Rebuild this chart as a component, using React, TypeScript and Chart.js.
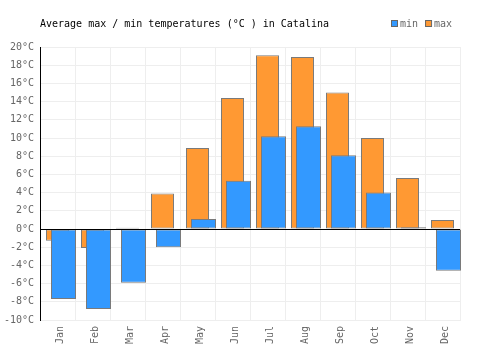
import React, { useEffect, useRef } from "react";
import { Chart, registerables } from "chart.js";

Chart.register(...registerables);

const months = ["Jan", "Feb", "Mar", "Apr", "May", "Jun", "Jul", "Aug", "Sep", "Oct", "Nov", "Dec"];
const maxTemps = [-1.3, -2.1, 0.15, 3.9, 8.9, 14.4, 19.1, 18.9, 15.0, 10.0, 5.6, 1.0];
const minTemps = [-7.7, -8.8, -5.9, -2.0, 1.1, 5.3, 10.2, 11.3, 8.1, 4.0, 0.2, -4.6];
const titleText = "Average max / min temperatures (°C ) in Catalina";
const yMin = -10;
const yMax = 20;
const yStep = 2;

const FONT = "'DejaVu Sans Mono', monospace";

// draw datasets in natural order (first dataset underneath), then zero line on top
const drawOrderPlugin = {
  id: "drawOrder",
  beforeDatasetsDraw(chart: any) {
    const metas = chart.getSortedVisibleDatasetMetas();
    for (const meta of metas) {
      meta.controller.draw();
    }
    const y = chart.scales.y;
    const ctx = chart.ctx;
    const py = Math.round(y.getPixelForValue(0)) + 0.5;
    ctx.save();
    ctx.strokeStyle = "#000";
    ctx.lineWidth = 1;
    ctx.beginPath();
    ctx.moveTo(chart.chartArea.left, py);
    ctx.lineTo(chart.chartArea.right, py);
    ctx.stroke();
    ctx.restore();
    return false;
  },
};

const headerPlugin = {
  id: "header",
  afterDraw(chart: any) {
    const ctx = chart.ctx;
    ctx.save();
    ctx.font = "10px " + FONT;
    ctx.textBaseline = "alphabetic";
    ctx.textAlign = "left";
    ctx.fillStyle = "#000";
    ctx.fillText(titleText, chart.chartArea.left, 27);
    const items = chart.data.datasets.map((d: any) => ({ label: d.label, color: d.backgroundColor }));
    const order = [items[1], items[0]];
    let x = 391;
    for (const it of order) {
      ctx.fillStyle = it.color;
      ctx.fillRect(x, 20, 6, 6);
      ctx.strokeStyle = "#666";
      ctx.lineWidth = 1;
      ctx.strokeRect(x + 0.5, 20.5, 6, 6);
      ctx.fillStyle = "#666";
      ctx.fillText(it.label, x + 9, 27);
      x += 9 + ctx.measureText(it.label).width + 7;
    }
    ctx.restore();
  },
};

export default function App() {
  const ref = useRef<HTMLCanvasElement>(null);
  useEffect(() => {
    if (!ref.current) return;
    const chart = new Chart(ref.current, {
      type: "bar",
      data: {
        labels: months,
        datasets: [
          {
            label: "max",
            data: maxTemps,
            backgroundColor: "#FF9933",
            borderColor: "#7a7a7a",
            borderWidth: 1,
            borderSkipped: false,
            categoryPercentage: 0.001,
            barPercentage: 1314.2857,
          },
          {
            label: "min",
            data: minTemps,
            backgroundColor: "#3399FF",
            borderColor: "#7a7a7a",
            borderWidth: 1,
            borderSkipped: false,
            categoryPercentage: 0.6857143,
            barPercentage: 2.0833333,
          },
        ],
      },
      options: {
        responsive: false,
        animation: false,
        layout: { padding: { top: 47, right: 40, left: 0, bottom: 0 } },
        plugins: {
          legend: { display: false },
          title: { display: false },
          tooltip: { enabled: false },
        },
        scales: {
          x: {
            offset: true,
            grid: { color: "#eeeeee", drawTicks: false, offset: true },
            border: { color: "#eeeeee" },
            ticks: {
              color: "#666",
              font: { family: FONT, size: 10 },
              minRotation: 90,
              maxRotation: 90,
              padding: 6,
              labelOffset: 2.5,
            },
            afterFit: (s: any) => {
              s.height = 30;
            },
          },
          y: {
            min: yMin,
            max: yMax,
            grid: { color: "#eeeeee", drawTicks: false },
            border: { color: "#000" },
            ticks: {
              stepSize: yStep,
              color: "#666",
              font: { family: FONT, size: 10 },
              padding: 6,
              callback: (v: any) => v + "°C",
            },
            afterFit: (s: any) => {
              s.width = 40;
            },
          },
        },
      },
      plugins: [drawOrderPlugin, headerPlugin],
    });
    return () => chart.destroy();
  }, []);
  return (
    <div style={{ position: "absolute", left: 0, top: 0, width: 500, height: 350, background: "#fff" }}>
      <canvas ref={ref} width={500} height={350} />
    </div>
  );
}
